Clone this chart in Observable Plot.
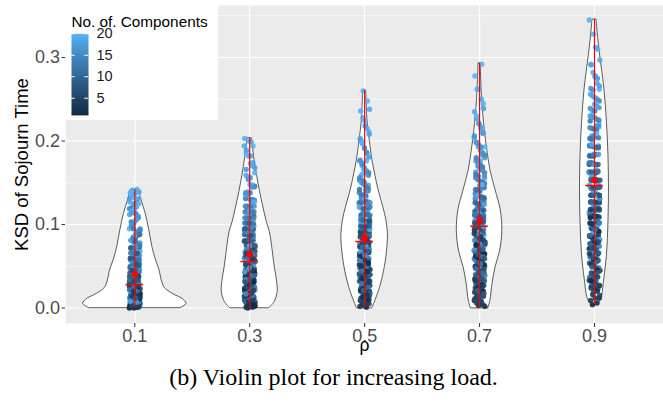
<!DOCTYPE html>
<html>
<head>
<meta charset="utf-8">
<script src="https://cdn.jsdelivr.net/npm/d3@7"></script>
<script src="https://cdn.jsdelivr.net/npm/@observablehq/plot@0.6"></script>
<style>
  html, body { margin: 0; padding: 0; background: white; }
  #wrap { position: relative; width: 663px; height: 410px; overflow: hidden; }
  #legend { position: absolute; left: 65px; top: 5px; }
</style>
</head>
<body>
<div id="wrap"><div id="main"></div><div id="legend"></div></div>
<script>
// ---------- data ----------
const rhoLevels = [0.1, 0.3, 0.5, 0.7, 0.9];
const rhoTickLabels = ["0.1", "0.3", "0.5", "0.7", "0.9"];
const yTicks = [0, 0.1, 0.2, 0.3];
const yTickLabels = ["0.0", "0.1", "0.2", "0.3"];
const yMinorTicks = [0.05, 0.15, 0.25, 0.35];
const componentRange = [1, 20];
const legendTicks = [5, 10, 15, 20];

// violin outlines: KSD levels and relative density (1 = widest violin)
const violinKsd = [
  [0, 0.005, 0.011, 0.015, 0.019, 0.024, 0.033, 0.045, 0.057, 0.073, 0.093, 0.113, 0.129, 0.1415],
  [0, 0.007, 0.019, 0.031, 0.051, 0.075, 0.091, 0.103, 0.119, 0.139, 0.159, 0.179, 0.2034],
  [0, 0.009, 0.025, 0.049, 0.073, 0.089, 0.105, 0.121, 0.141, 0.161, 0.177, 0.2, 0.225, 0.2605],
  [0, 0.009, 0.029, 0.049, 0.069, 0.093, 0.117, 0.141, 0.165, 0.189, 0.213, 0.249, 0.293],
  [0.004, 0.011, 0.035, 0.063, 0.103, 0.143, 0.183, 0.223, 0.263, 0.302, 0.33, 0.3455]
];
const violinDensity = [
  [0.89, 1.0, 0.92, 0.79, 0.68, 0.58, 0.52, 0.48, 0.41, 0.34, 0.28, 0.21, 0.13, 0.08],
  [0.38, 0.48, 0.54, 0.53, 0.48, 0.43, 0.39, 0.33, 0.27, 0.20, 0.14, 0.09, 0.04],
  [0.15, 0.21, 0.30, 0.39, 0.44, 0.45, 0.42, 0.36, 0.27, 0.20, 0.15, 0.10, 0.054, 0.03],
  [0.17, 0.21, 0.25, 0.31, 0.40, 0.44, 0.41, 0.31, 0.21, 0.15, 0.10, 0.05, 0.02],
  [0.06, 0.13, 0.19, 0.24, 0.27, 0.28, 0.27, 0.24, 0.19, 0.11, 0.06, 0.04]
];

// summary statistics (red marks)
const ksdMin = [0, 0, 0, 0, 0.004];
const ksdMax = [0.1415, 0.2034, 0.2605, 0.293, 0.3455];
const ksdMean = [0.0405, 0.0645, 0.0848, 0.1048, 0.153];
const ksdMedian = [0.028, 0.0557, 0.0796, 0.098, 0.1467];

// observations: KSD (x 1/1000), one row per number of components 1..20
const ksdRho01 = [
  "0 1 2 3 4 5 7 9 12 14 16 19", "0 1 3 4 6 8 9 12 14 16 21 25", "1 2 3 5 8 11 13 15 18 20 26 30",
  "1 2 4 7 10 14 17 19 22 25 32 37", "1 3 5 8 12 17 20 23 27 30 38 44", "2 4 7 10 15 21 25 28 32 36 45 51",
  "2 5 8 12 18 25 29 33 38 42 52 58", "2 6 10 15 21 29 34 38 43 48 59 65", "3 7 12 17 24 33 38 43 49 54 66 72",
  "3 8 13 20 28 37 43 48 55 60 73 80", "4 9 15 22 31 41 47 53 60 66 80 88", "4 10 17 25 34 45 52 58 66 72 87 95",
  "5 11 19 28 38 50 58 66 75 84 103 110", "5 12 21 31 43 57 66 74 84 93 113 120", "6 14 23 35 48 63 72 81 91 101 119 126",
  "6 15 26 38 52 69 78 88 98 108 125 131", "7 17 29 42 57 75 85 95 105 114 131 136", "8 19 32 46 62 81 92 102 112 121 136 139",
  "9 21 35 50 68 88 99 109 118 127 139 141", "10 23 38 55 74 95 106 116 125 132 138 142"
];
const ksdRho03 = [
  "0 2 5 8 12 17 22 25 28 31 35 40", "1 3 7 11 16 22 28 32 35 39 43 48", "1 5 9 14 20 27 34 38 42 46 51 57",
  "2 6 11 17 24 32 40 45 49 54 59 65", "3 8 14 21 29 37 46 51 56 61 66 72", "4 10 17 25 33 42 52 57 62 68 73 80",
  "5 12 20 28 37 47 58 63 69 75 80 87", "6 14 22 31 41 52 63 69 75 81 87 95", "7 16 25 35 46 57 69 75 81 88 94 102",
  "8 18 28 39 50 62 75 82 88 95 101 110", "10 20 31 43 55 68 81 88 95 102 108 117", "11 22 34 47 60 73 87 94 101 108 115 124",
  "13 25 38 51 65 79 93 101 108 115 122 131", "15 28 41 55 70 85 100 108 115 122 129 138", "17 31 45 60 75 91 107 115 122 130 137 146",
  "19 34 49 65 81 97 114 122 130 138 145 154", "22 38 55 72 90 108 126 136 145 156 166 174", "25 43 61 79 98 117 136 147 157 168 182 189",
  "29 48 67 87 107 127 148 159 170 182 194 199", "33 53 74 95 117 139 162 173 185 194 200 203"
];
const ksdRho05 = [
  "1 5 10 16 22 29 36 40 44 48 53 58", "2 7 13 20 27 35 43 47 52 57 62 67", "3 9 16 24 32 41 50 55 60 65 70 76",
  "5 12 20 28 37 46 56 61 66 71 77 83", "7 15 23 32 42 52 62 67 73 78 84 90", "9 18 27 37 47 57 68 73 79 84 90 97",
  "12 21 31 41 52 63 74 79 85 91 97 104", "15 25 35 46 57 68 80 86 92 98 104 111", "18 28 39 50 62 74 86 92 98 104 111 118",
  "21 32 44 55 67 80 92 98 105 111 118 126", "25 36 48 60 73 86 99 105 112 119 126 134", "29 41 53 66 79 92 106 113 120 127 134 142",
  "33 46 59 72 86 100 114 121 128 135 143 151", "38 51 65 79 93 108 123 130 138 145 153 162", "43 57 71 86 101 116 132 140 148 156 164 173",
  "48 63 78 94 110 126 142 150 159 168 177 186", "54 70 86 102 119 136 153 162 171 181 191 201", "60 77 94 111 129 147 166 176 186 197 208 218",
  "67 85 103 121 140 160 181 192 203 215 228 238", "75 94 113 133 154 176 199 211 224 236 248 260"
];
const ksdRho07 = [
  "2 7 13 20 27 35 43 47 52 57 62 67", "3 9 16 24 32 41 50 55 60 65 71 76", "4 11 19 28 37 47 57 62 68 73 79 85",
  "6 14 23 33 43 53 64 69 75 81 87 93", "8 17 27 37 48 59 70 76 82 88 94 100", "11 21 31 42 53 65 77 83 89 95 101 108",
  "14 24 35 47 59 71 83 89 96 102 108 115", "17 28 40 52 64 77 90 96 103 110 116 123", "21 33 45 57 70 83 96 103 110 117 124 131",
  "25 37 50 63 76 90 104 111 118 125 132 140", "29 42 55 69 83 97 111 118 126 133 141 149", "34 47 61 75 90 104 119 126 134 142 150 158",
  "39 53 67 82 97 112 128 136 144 152 160 169", "44 59 74 89 105 121 137 145 154 162 171 180", "50 65 81 97 113 130 147 156 165 174 183 193",
  "56 72 88 105 122 140 158 167 176 186 196 206", "63 80 97 114 132 151 170 180 189 199 210 221", "70 88 106 124 143 163 183 193 204 215 227 239",
  "78 97 116 135 155 176 198 209 221 235 250 262", "87 107 127 148 170 193 217 230 245 262 278 292"
];
const ksdRho09 = [
  "4 12 22 33 45 58 71 78 85 92 100 108", "6 16 27 39 52 65 79 86 94 101 109 117", "9 20 32 45 58 72 87 94 102 110 118 126",
  "12 24 37 51 65 80 95 102 110 118 126 135", "15 28 42 57 72 87 103 111 119 127 135 144", "19 33 48 63 79 95 111 119 127 135 144 153",
  "23 38 54 70 86 102 119 127 136 144 153 162", "27 43 60 77 93 110 127 136 145 153 162 172", "32 49 66 84 101 118 136 145 154 163 172 182",
  "37 55 73 91 109 127 145 154 163 172 182 192", "42 61 80 98 117 136 155 164 173 182 192 202", "48 67 87 106 125 145 164 174 184 193 203 213",
  "54 74 94 114 134 154 174 184 194 204 214 224", "60 81 102 122 143 163 184 194 205 215 225 236", "67 88 110 131 152 173 194 205 216 226 237 248",
  "74 96 118 140 162 184 206 217 228 239 250 261", "82 105 127 150 172 195 218 229 240 252 263 275", "90 114 137 160 184 207 230 242 254 266 278 291",
  "99 123 147 171 196 220 244 256 269 282 297 312", "108 133 158 183 209 235 262 277 292 310 328 345"
];
const ksdByRho = [ksdRho01, ksdRho03, ksdRho05, ksdRho07, ksdRho09];

// ---------- build tables ----------
const HALF = 0.09;      // half of max violin width (0.45 of category step 0.2)
const JITTER = 0.0095;  // jitter half-width in rho units
const CROSS = 0.0153;   // half-width of median bar

const violinRows = rhoLevels.flatMap((rho, g) =>
  violinKsd[g].map((k, i) => ({rho, ksd: k, lo: rho - violinDensity[g][i] * HALF, hi: rho + violinDensity[g][i] * HALF}))
);

const pointRows = [];
rhoLevels.forEach((rho, g) => {
  ksdByRho[g].forEach((row, ci) => {
    row.trim().split(/\s+/).forEach(v => pointRows.push({rho, comp: ci + 1, ksd: +v / 1000}));
  });
});
pointRows.forEach((d, i) => { d.j = ((i * 0.6180339887) % 1) * 2 - 1; d.order = (i * 0.7548776662) % 1; });
pointRows.sort((a, b) => a.order - b.order);

const summaryRows = rhoLevels.map((rho, g) => ({rho, min: ksdMin[g], max: ksdMax[g], mean: ksdMean[g], median: ksdMedian[g]}));

const colorScale = {type: "linear", domain: componentRange, range: ["#132B43", "#56B1F7"], interpolate: "lab"};
const sans = "'Liberation Sans', Arial, Helvetica, sans-serif";

const main = Plot.plot({
  width: 663, height: 410,
  marginLeft: 65, marginRight: 0, marginTop: 5, marginBottom: 87,
  x: {type: "linear", domain: [-0.0206, 1.0201], axis: null},
  y: {domain: [-0.01856, 0.3623], axis: null},
  color: colorScale,
  style: {fontFamily: sans, fontSize: "18px", background: "white"},
  marks: [
    Plot.frame({fill: "#EBEBEB", stroke: null}),
    Plot.gridY({ticks: yMinorTicks, stroke: "white", strokeOpacity: 1, strokeWidth: 0.6}),
    Plot.gridY({ticks: yTicks, stroke: "white", strokeOpacity: 1, strokeWidth: 1.2}),
    Plot.gridX({ticks: rhoLevels, stroke: "white", strokeOpacity: 1, strokeWidth: 1.2}),
    Plot.areaX(violinRows, {y: "ksd", x1: "lo", x2: "hi", z: "rho", fill: "white", stroke: "#333333", strokeWidth: 0.8, curve: "catmull-rom"}),
    Plot.dot(pointRows, {x: d => d.rho + d.j * JITTER, y: "ksd", fill: "comp", r: 2.7, fillOpacity: 0.9, stroke: null}),
    Plot.ruleX(summaryRows, {x: "rho", y1: "min", y2: "max", stroke: "#FF0000", strokeWidth: 1.2}),
    Plot.ruleY(summaryRows, {y: "median", x1: d => d.rho - CROSS, x2: d => d.rho + CROSS, stroke: "#FF0000", strokeWidth: 1.5}),
    Plot.dot(summaryRows, {x: "rho", y: "mean", r: 3.3, fill: "#FF0000", stroke: null}),
    Plot.axisY({ticks: yTicks, tickFormat: d => yTickLabels[yTicks.indexOf(d)], tickSize: 3.5, tickPadding: 2, fontSize: 18, stroke: "#333333", fill: "#4D4D4D", label: null}),
    Plot.axisX({ticks: rhoLevels, tickFormat: d => rhoTickLabels[rhoLevels.indexOf(d)], tickSize: 4, tickPadding: 1.5, fontSize: 18, stroke: "#333333", fill: "#4D4D4D", label: null}),
    Plot.text(["KSD of Sojourn Time"], {frameAnchor: "left", textAnchor: "middle", dx: -43.5, rotate: -90, fontSize: 18.5, fill: "black"}),
    Plot.text(["ρ"], {frameAnchor: "bottom", dy: 27, fontSize: 17.5, fill: "black"}),
    Plot.text(["(b) Violin plot for increasing load."], {frameAnchor: "bottom", dx: -31, dy: 61, fontSize: 24, fill: "black", fontFamily: "'Liberation Serif', 'Times New Roman', serif"})
  ]
});
document.getElementById("main").appendChild(main);

const legend = Plot.plot({
  width: 153, height: 115,
  marginLeft: 6, marginRight: 130, marginTop: 28.3, marginBottom: 5.1,
  x: {domain: [0, 1], axis: null},
  y: {domain: componentRange, axis: null},
  color: colorScale,
  style: {fontFamily: sans, fontSize: "15px", background: "white", overflow: "visible"},
  marks: [
    Plot.raster({x1: 0, x2: 1, y1: componentRange[0], y2: componentRange[1], width: 1, height: 160, fill: (x, y) => y, imageRendering: "auto"}),
    Plot.ruleY(legendTicks, {x1: 0, x2: 0.22, stroke: "white", strokeWidth: 1}),
    Plot.ruleY(legendTicks, {x1: 0.78, x2: 1, stroke: "white", strokeWidth: 1}),
    Plot.axisY({anchor: "right", ticks: legendTicks, tickSize: 0, tickPadding: 8, fontSize: 14.5, fill: "#1A1A1A", label: null}),
    Plot.text(["No. of. Components"], {frameAnchor: "top-left", dy: -17.5, textAnchor: "start", fontSize: 15.3, fill: "black"})
  ]
});
document.getElementById("legend").appendChild(legend);
</script>
</body>
</html>
